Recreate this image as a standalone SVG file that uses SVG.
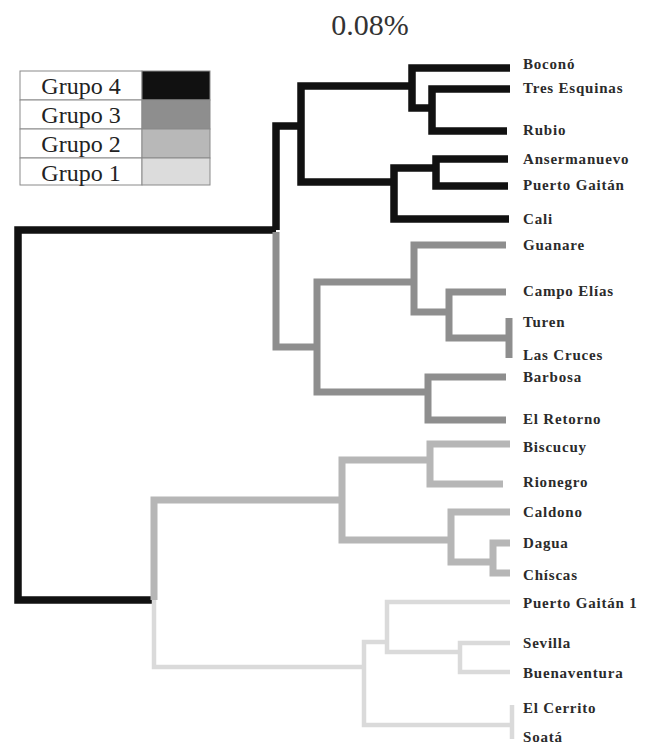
<svg xmlns="http://www.w3.org/2000/svg" width="645" height="745" viewBox="0 0 645 745">
<style>
.g4{fill:none;stroke:#111;stroke-width:7.5;stroke-linejoin:miter;stroke-linecap:butt}
.g3{fill:none;stroke:#8e8e8e;stroke-width:7;stroke-linejoin:miter;stroke-linecap:butt}
.g2{fill:none;stroke:#b6b6b6;stroke-width:7;stroke-linejoin:miter;stroke-linecap:butt}
.g1{fill:none;stroke:#dadada;stroke-width:4.5;stroke-linejoin:miter;stroke-linecap:butt}
.lbl{font-family:"Liberation Serif","Times New Roman",serif;font-weight:bold;font-size:15px;letter-spacing:0.8px;fill:#2b2b2b}
.leg{font-family:"Liberation Serif","Times New Roman",serif;font-size:24px;fill:#222;text-anchor:middle}
.cell{stroke:#8a8a8a;stroke-width:1}
</style>
<rect width="645" height="745" fill="#fff"/>
<text x="370" y="35" font-family="Liberation Serif, serif" font-size="30" fill="#333" text-anchor="middle">0.08%</text>
<g id="legend">
<rect class="cell" x="20" y="71" width="122" height="29" fill="#fff"/>
<rect class="cell" x="142" y="71" width="68" height="29" fill="#111"/>
<rect class="cell" x="20" y="100" width="122" height="29" fill="#fff"/>
<rect class="cell" x="142" y="100" width="68" height="29" fill="#8e8e8e"/>
<rect class="cell" x="20" y="129" width="122" height="29" fill="#fff"/>
<rect class="cell" x="142" y="129" width="68" height="29" fill="#b8b8b8"/>
<rect class="cell" x="20" y="158" width="122" height="27" fill="#fff"/>
<rect class="cell" x="142" y="158" width="68" height="27" fill="#dcdcdc"/>
<text class="leg" x="81" y="94">Grupo 4</text>
<text class="leg" x="81" y="123">Grupo 3</text>
<text class="leg" x="81" y="152">Grupo 2</text>
<text class="leg" x="81" y="181">Grupo 1</text>
</g>
<g id="connectors">
<path class="g4" d="M510,68 H412 V108 H432"/>
<path class="g4" d="M510,89 H432 V131 H507"/>
<path class="g4" d="M412,86 H301 V182 H394"/>
<path class="g4" d="M436,168 H394 V219 H509"/>
<path class="g4" d="M508,159 H436 V186 H508"/>
<path class="g4" d="M301,126 H276 V230"/>
<path class="g4" d="M276,230 H18 V600 H154"/>
<path class="g3" d="M276,232 V347 H317"/>
<path class="g3" d="M414,282 H317 V392 H428"/>
<path class="g3" d="M506,245 H414 V312 H449"/>
<path class="g3" d="M506,292 H449 V338 H509"/>
<path class="g3" d="M509,318 V358"/>
<path class="g3" d="M506,377 H428 V420 H506"/>
<path class="g2" d="M342,500 H154 V600"/>
<path class="g2" d="M430,460 H342 V540 H451"/>
<path class="g2" d="M510,444 H430 V484 H503"/>
<path class="g2" d="M510,512 H451 V562 H493"/>
<path class="g2" d="M510,543 H493 V573 H510"/>
<path class="g1" d="M154,600 V667 H364"/>
<path class="g1" d="M387,642 H364 V725 H512"/>
<path class="g1" d="M510,602 H387 V652 H460"/>
<path class="g1" d="M510,643 H460 V672 H510"/>
<path class="g1" d="M512,705 V739"/>
</g>
<g id="n-bocono"><text class="lbl" x="523" y="69">Boconó</text></g>
<g id="n-tres-esquinas"><text class="lbl" x="523" y="93">Tres Esquinas</text></g>
<g id="n-rubio"><text class="lbl" x="523" y="135">Rubio</text></g>
<g id="n-ansermanuevo"><text class="lbl" x="523" y="164">Ansermanuevo</text></g>
<g id="n-puerto-gaitan"><text class="lbl" x="523" y="190">Puerto Gaitán</text></g>
<g id="n-cali"><text class="lbl" x="523" y="224">Cali</text></g>
<g id="n-guanare"><text class="lbl" x="523" y="250">Guanare</text></g>
<g id="n-campo-elias"><text class="lbl" x="523" y="296">Campo Elías</text></g>
<g id="n-turen"><text class="lbl" x="523" y="327">Turen</text></g>
<g id="n-las-cruces"><text class="lbl" x="523" y="360">Las Cruces</text></g>
<g id="n-barbosa"><text class="lbl" x="523" y="382">Barbosa</text></g>
<g id="n-el-retorno"><text class="lbl" x="523" y="424">El Retorno</text></g>
<g id="n-biscucuy"><text class="lbl" x="523" y="452">Biscucuy</text></g>
<g id="n-rionegro"><text class="lbl" x="523" y="487">Rionegro</text></g>
<g id="n-caldono"><text class="lbl" x="523" y="517">Caldono</text></g>
<g id="n-dagua"><text class="lbl" x="523" y="548">Dagua</text></g>
<g id="n-chiscas"><text class="lbl" x="523" y="580">Chíscas</text></g>
<g id="n-puerto-gaitan-1"><text class="lbl" x="523" y="608">Puerto Gaitán 1</text></g>
<g id="n-sevilla"><text class="lbl" x="523" y="648">Sevilla</text></g>
<g id="n-buenaventura"><text class="lbl" x="523" y="678">Buenaventura</text></g>
<g id="n-el-cerrito"><text class="lbl" x="523" y="713">El Cerrito</text></g>
<g id="n-soata"><text class="lbl" x="523" y="742">Soatá</text></g>
</svg>
